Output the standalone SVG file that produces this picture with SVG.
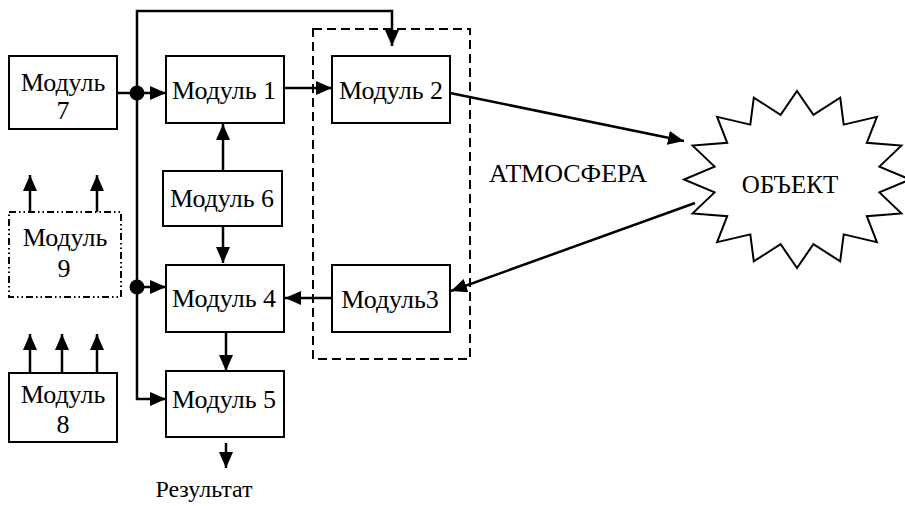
<svg xmlns="http://www.w3.org/2000/svg" width="905" height="506" viewBox="0 0 905 506">
<style>
.box{fill:#fff;stroke:#000;stroke-width:2}
.t{font-family:"Liberation Serif","Times New Roman",serif;font-size:26px;fill:#000;text-anchor:middle}
.c{fill:none;stroke:#000;stroke-width:2.5}
.a{marker-end:url(#ah)}
</style>
<defs>
<marker id="ah" markerUnits="userSpaceOnUse" markerWidth="16" markerHeight="14" refX="16" refY="7" orient="auto">
<path d="M0,0 L16,7 L0,14 z" fill="#000"/>
</marker>
</defs>
<rect width="905" height="506" fill="#fff"/>
<g id="atmosphere">
<rect x="313" y="29" width="157" height="330" fill="none" stroke="#000" stroke-width="2" stroke-dasharray="9,5"/>
<text class="t" x="568" y="182">АТМОСФЕРА</text>
</g>
<g id="object">
<polygon fill="#fff" stroke="#000" stroke-width="2" points="797,91 813.4,114.8 840.2,97.7 843.7,124.6 876.9,116.9 866.8,142.8 901.4,145.6 879.4,166.6 910,179.5 879.4,192.4 901.4,213.4 866.8,216.2 876.9,242.1 843.7,234.4 840.2,261.3 813.4,244.2 797,268 780.6,244.2 753.8,261.3 750.3,234.4 717.1,242.1 727.2,216.2 692.6,213.4 714.6,192.4 684,179.5 714.6,166.6 692.6,145.6 727.2,142.8 717.1,116.9 750.3,124.6 753.8,97.7 780.6,114.8"/>
<text class="t" x="790" y="193" style="font-size:25px">ОБЪЕКТ</text>
</g>
<g id="m7"><rect class="box" x="9" y="56" width="108" height="73"/><text class="t" x="63" y="91">Модуль</text><text class="t" x="63" y="119">7</text></g>
<g id="m1"><rect class="box" x="166" y="56" width="118" height="67"/><text class="t" x="224" y="99">Модуль 1</text></g>
<g id="m2"><rect class="box" x="332" y="56" width="118" height="67"/><text class="t" x="391" y="99">Модуль 2</text></g>
<g id="m6"><rect class="box" x="163" y="171" width="119" height="55"/><text class="t" x="222" y="207">Модуль 6</text></g>
<g id="m9"><rect x="9" y="212" width="112" height="85" fill="#fff" stroke="#000" stroke-width="2" stroke-dasharray="7,3,1.5,3,1.5,3"/><text class="t" x="65" y="246">Модуль</text><text class="t" x="64" y="277">9</text></g>
<g id="m4"><rect class="box" x="166" y="265" width="118" height="67"/><text class="t" x="224" y="307">Модуль 4</text></g>
<g id="m3"><rect class="box" x="332" y="265" width="118" height="67"/><text class="t" x="390" y="308">Модуль3</text></g>
<g id="m8"><rect class="box" x="9" y="373" width="108" height="69"/><text class="t" x="63" y="403">Модуль</text><text class="t" x="63" y="433">8</text></g>
<g id="m5"><rect class="box" x="166" y="371" width="118" height="66"/><text class="t" x="224" y="408">Модуль 5</text></g>
<g id="result"><text class="t" x="204" y="497" style="font-size:24px">Результат</text></g>
<g id="connectors">
<path class="c a" d="M137,93 V11 H392 V46"/>
<path class="c a" d="M137,93 V399 H166"/>
<path class="c" d="M117,93 H137"/>
<path class="c a" d="M137,93 H166"/>
<path class="c a" d="M137,287 H166"/>
<circle cx="137" cy="93" r="7.5" fill="#000"/>
<circle cx="137" cy="287" r="7.5" fill="#000"/>
<path class="c a" d="M284,88 H332"/>
<path class="c a" d="M223,171 V124"/>
<path class="c a" d="M223,226 V263"/>
<path class="c a" d="M332,298 H285"/>
<path class="c a" d="M226,332 V371"/>
<path class="c a" d="M226,443 V468"/>
<path class="c a" d="M450,93 L684,141"/>
<path class="c a" d="M695,203 L451,291"/>
<path class="c a" d="M30,212 V175"/>
<path class="c a" d="M97,212 V175"/>
<path class="c a" d="M30,373 V334"/>
<path class="c a" d="M62,373 V334"/>
<path class="c a" d="M97,373 V334"/>
</g>
</svg>
